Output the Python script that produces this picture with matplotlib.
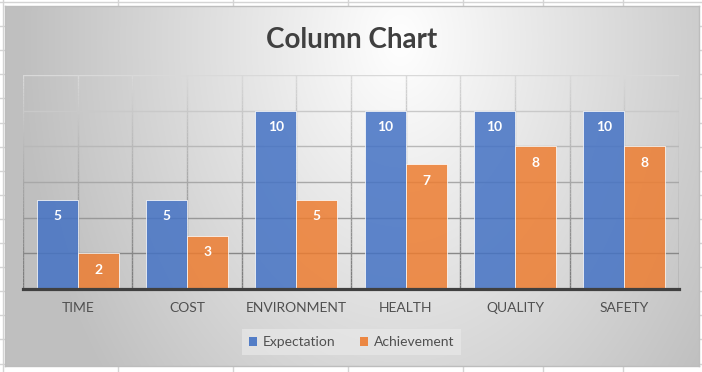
import numpy as np
from matplotlib import pyplot as plt
from matplotlib.collections import LineCollection
from matplotlib.patches import Patch

categories = ["TIME", "COST", "ENVIRONMENT", "HEALTH", "QUALITY", "SAFETY"]
expectation = [5, 5, 10, 10, 10, 10]
achievement = [2, 3, 5, 7, 8, 8]
series_names = ["Expectation", "Achievement"]

W, H = 702, 372
plt.rcParams['font.family'] = ['Lato', 'DejaVu Sans']

fig = plt.figure(figsize=(W / 100, H / 100), dpi=100)
fig.patch.set_facecolor('white')

# spreadsheet cells behind the chart
sheet = fig.add_axes([0, 0, 1, 1])
sheet.set_xlim(0, W)
sheet.set_ylim(H, 0)
sheet.axis('off')
for x in [3, 118, 233, 348, 463, 543, 623]:
    sheet.axvline(x, color='#d4d4d4', lw=1)
for y in np.arange(2, H, 24.1):
    sheet.axhline(y, color='#d4d4d4', lw=1)

# chart area with radial gradient
cx0, cy0, cx1, cy1 = 5, 6, 699, 366
bg = fig.add_axes([cx0 / W, 1 - cy1 / H, (cx1 - cx0) / W, (cy1 - cy0) / H])
xx, yy = np.meshgrid(np.arange(cx0, cx1), np.arange(cy0, cy1))
d = np.sqrt(((xx - 400) / 380.0) ** 2 + ((yy - 40) / 540.0) ** 2)
v = 1 - 0.25 * np.clip(d, 0, 1)
bg.imshow(np.dstack([v, v, v]), aspect='auto', interpolation='bilinear')
bg.set_xticks([])
bg.set_yticks([])
for s in bg.spines.values():
    s.set_color('#bdbdbd')
    s.set_linewidth(1)

# plot area
px0, py0, px1, py1 = 23, 75, 679, 289
ax = fig.add_axes([px0 / W, 1 - py1 / H, (px1 - px0) / W, (py1 - py0) / H])
ax.patch.set_alpha(0)
ax.set_xlim(-0.5, len(categories) - 0.5)
ax.set_ylim(0, 12)


def grid_gray(y):
    g = 0.47 + 0.38 * (y / 12.0)
    return (g, g, g)


# gridlines get darker towards the axis
for y in range(2, 13, 2):
    ax.axhline(y, color=grid_gray(y), lw=1, zorder=1)
ys = np.linspace(0, 12, 61)
segs, cols = [], []
for x in np.arange(-0.5, len(categories), 0.5):
    for a, b in zip(ys[:-1], ys[1:]):
        segs.append([(x, a), (x, b)])
        cols.append(grid_gray((a + b) / 2))
ax.add_collection(LineCollection(segs, colors=cols, linewidths=1, zorder=1))

xpos = np.arange(len(categories))
bw = 0.375
blue = '#4472C4'
orange = '#ED7D31'
b1 = ax.bar(xpos - bw / 2, expectation, bw, color=blue, alpha=0.85,
            edgecolor=(1, 1, 1, 0.6), linewidth=0.6, zorder=2)
b2 = ax.bar(xpos + bw / 2, achievement, bw, color=orange, alpha=0.85,
            edgecolor=(1, 1, 1, 0.6), linewidth=0.6, zorder=2)
for bars in (b1, b2):
    for r in bars:
        ax.annotate(f"{r.get_height():g}",
                    (r.get_x() + r.get_width() / 2, r.get_height()),
                    xytext=(0, -12), textcoords='offset points',
                    ha='center', va='center', color='white',
                    fontsize=10, fontweight='bold', zorder=3)

for s in ['left', 'right', 'top']:
    ax.spines[s].set_visible(False)
ax.spines['bottom'].set_color('#404040')
ax.spines['bottom'].set_linewidth(2.3)
ax.spines['bottom'].set_zorder(4)
ax.set_yticks([])
ax.set_xticks(xpos)
ax.set_xticklabels(categories, fontsize=10, color='#505050')
ax.tick_params(axis='x', length=0, pad=9)

fig.text(351.5 / W, 1 - 48 / H, "Column Chart", ha='center', va='baseline',
         fontsize=20, fontweight='bold', color='#404040')

handles = [Patch(facecolor=blue, alpha=0.9), Patch(facecolor=orange, alpha=0.9)]
leg = fig.legend(handles, series_names, loc='center',
                 bbox_to_anchor=(351.5 / W, 1 - 342 / H), ncol=2,
                 fontsize=10, frameon=True, fancybox=False,
                 handlelength=0.6, handleheight=0.6, handletextpad=0.4,
                 columnspacing=1.8, borderpad=0.5)
leg.get_frame().set_facecolor('#e8e8e8')
leg.get_frame().set_alpha(0.7)
leg.get_frame().set_edgecolor('none')
for t in leg.get_texts():
    t.set_color('#505050')

fig.savefig('out.png', dpi=100)
